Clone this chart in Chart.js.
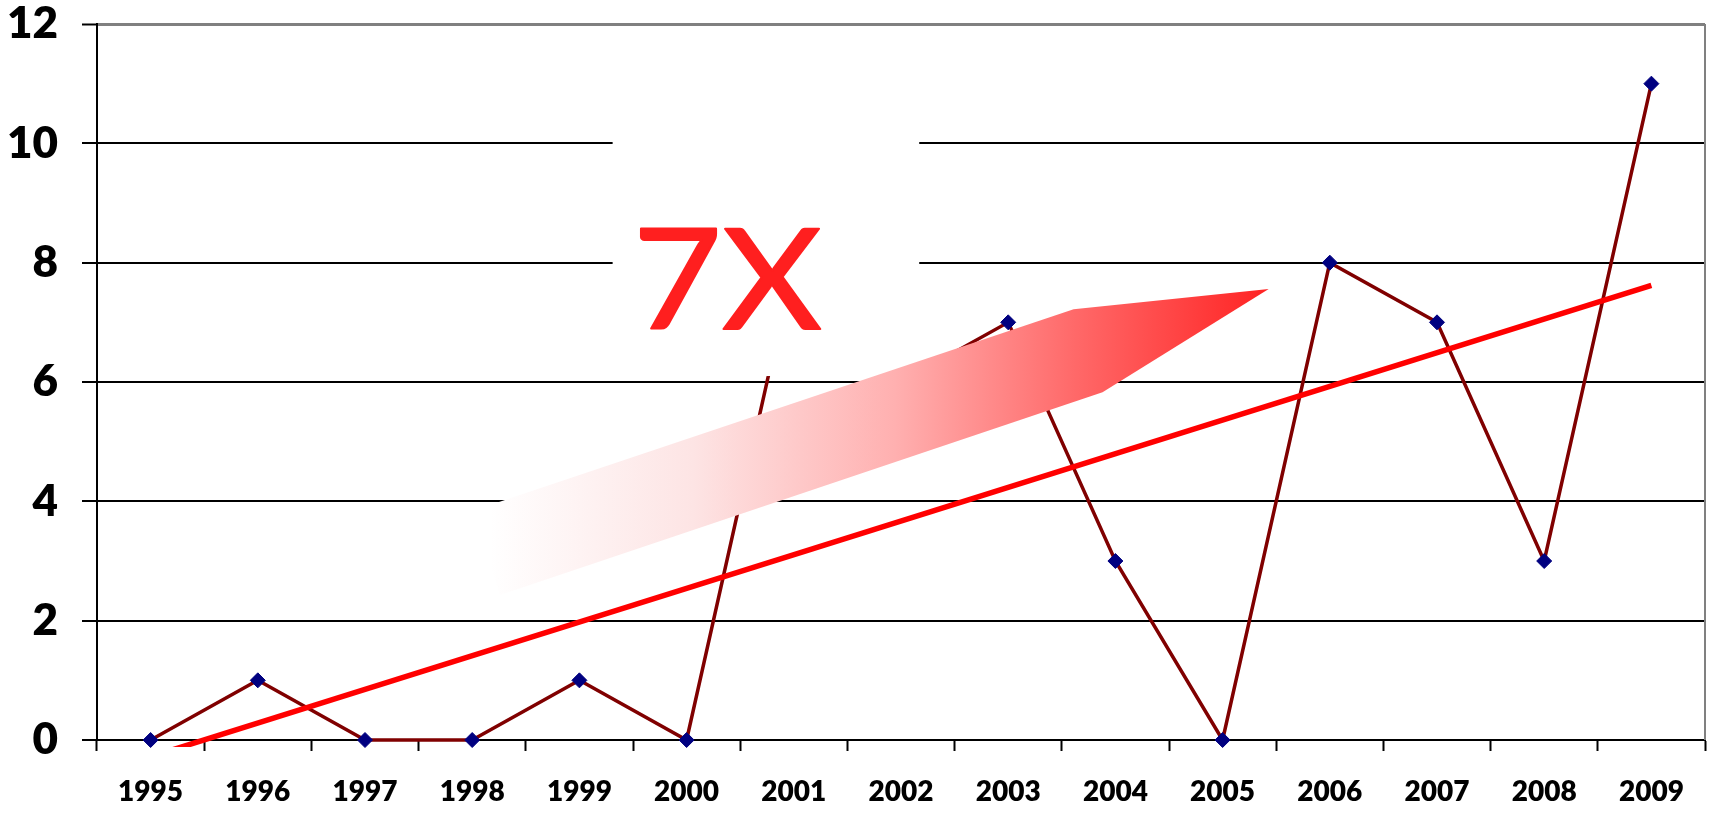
<!DOCTYPE html>
<html>
<head>
<meta charset="utf-8">
<script src="https://cdn.jsdelivr.net/npm/chart.js@4.4.1/dist/chart.umd.min.js"></script>
<style>
  html, body { margin: 0; padding: 0; background: #fff; }
  canvas { display: block; }
</style>
</head>
<body>
<canvas id="chart" width="1715" height="813"></canvas>
<script>
const years = ['1995', '1996', '1997', '1998', '1999', '2000', '2001', '2002',
               '2003', '2004', '2005', '2006', '2007', '2008', '2009'];
const counts = [0, 1, 0, 0, 1, 0, 8, 6, 7, 3, 0, 8, 7, 3, 11];
// linear trend, value at first and last year
const trendEnds = [-0.28, 7.62];
const yMax = 12;
const yStep = 2;

const trendData = years.map((_, i) => i === 0 ? trendEnds[0] : (i === years.length - 1 ? trendEnds[1] : null));

// white box, gradient arrow and the "7X" callout, placed in (category index, value) units
const callout = {
  box: { x0: 4.31, x1: 7.17, y0: 11.9, y1: 6.1 },
  arrow: [[3.0, 3.84], [8.61, 7.22], [10.43, 7.56], [8.88, 5.83], [3.26, 2.43]],
  fadeFrom: 3.17,
  fadeTo: 10.43,
  label: '7X',
  labelAt: [5.38, 6.89]
};

const calloutPlugin = {
  id: 'callout',
  afterDatasetsDraw(chart) {
    const ctx = chart.ctx;
    const xs = chart.scales.x, ys = chart.scales.y;
    const px = v => xs.getPixelForValue(v);
    const py = v => ys.getPixelForValue(v);
    ctx.save();

    // box that blanks part of the plot behind the label
    const b = callout.box;
    ctx.fillStyle = '#ffffff';
    ctx.fillRect(px(b.x0), py(b.y0), px(b.x1) - px(b.x0), py(b.y1) - py(b.y0));

    // arrow with a white-to-red fade
    const g = ctx.createLinearGradient(px(callout.fadeFrom), 0, px(callout.fadeTo), 0);
    g.addColorStop(0, '#ffffff');
    g.addColorStop(0.26, 'rgb(253,228,228)');
    g.addColorStop(0.52, 'rgb(255,176,176)');
    g.addColorStop(0.75, 'rgb(255,105,105)');
    g.addColorStop(1, 'rgb(255,35,35)');
    ctx.beginPath();
    callout.arrow.forEach(([a, v], i) => {
      if (i === 0) ctx.moveTo(px(a), py(v));
      else ctx.lineTo(px(a), py(v));
    });
    ctx.closePath();
    ctx.fillStyle = g;
    ctx.fill();

    // big "7X", a little wider than the font draws it
    const lx = px(callout.labelAt[0]), ly = py(callout.labelAt[1]);
    ctx.save();
    ctx.translate(lx, ly);
    ctx.scale(1.1, 1);
    ctx.font = '400 140px Lato';
    ctx.textAlign = 'center';
    ctx.textBaseline = 'alphabetic';
    ctx.fillStyle = '#ff1f1f';
    ctx.strokeStyle = '#ff1f1f';
    ctx.lineWidth = 2;
    ctx.lineJoin = 'round';
    ctx.fillText(callout.label, 0, 0);
    ctx.strokeText(callout.label, 0, 0);
    ctx.restore();

    // plot area border on the right
    ctx.strokeStyle = '#808080';
    ctx.lineWidth = 2;
    ctx.beginPath();
    ctx.moveTo(chart.chartArea.right, chart.chartArea.top);
    ctx.lineTo(chart.chartArea.right, chart.chartArea.bottom);
    ctx.stroke();
    ctx.restore();
  }
};

new Chart(document.getElementById('chart'), {
  type: 'line',
  data: {
    labels: years,
    datasets: [
      {
        data: trendData,
        borderColor: '#ff0000',
        borderWidth: 5.5,
        pointRadius: 0,
        spanGaps: true,
        order: 0,
        clip: { left: 0, top: 0, right: 0, bottom: 7 }
      },
      {
        data: counts,
        borderColor: '#800000',
        borderWidth: 3.5,
        pointStyle: 'rectRot',
        pointRadius: 7.5,
        pointBackgroundColor: '#000080',
        pointBorderColor: '#000080',
        pointBorderWidth: 1,
        tension: 0,
        order: 1,
        clip: false
      }
    ]
  },
  options: {
    responsive: false,
    animation: false,
    layout: { padding: { top: 24, right: 10, left: 0, bottom: 0 } },
    plugins: { legend: { display: false }, tooltip: { enabled: false } },
    scales: {
      x: {
        offset: true,
        grid: {
          offset: true,
          drawOnChartArea: false,
          drawTicks: true,
          tickLength: 11,
          tickColor: '#000000',
          tickWidth: 2
        },
        border: { color: '#000000', width: 2 },
        ticks: {
          color: '#000000',
          padding: 24,
          maxRotation: 0,
          autoSkip: false,
          font: { family: 'Lato', weight: '800', size: 28 }
        },
        afterFit(scale) { scale.height = 73; }
      },
      y: {
        min: 0,
        max: yMax,
        grid: {
          color: ctx => ctx.tick && ctx.tick.value === yMax ? '#808080' : '#000000',
          lineWidth: ctx => ctx.tick && ctx.tick.value === yMax ? 3 : 2,
          tickLength: 15,
          tickColor: '#000000',
          tickWidth: 2
        },
        border: { color: '#000000', width: 2 },
        ticks: {
          stepSize: yStep,
          color: '#000000',
          padding: 24,
          font: { family: 'Lato', weight: '800', size: 44 }
        },
        afterFit(scale) {
          scale.width = 97;
          scale.paddingTop = 0;
        }
      }
    }
  },
  plugins: [calloutPlugin]
});
</script>
</body>
</html>
